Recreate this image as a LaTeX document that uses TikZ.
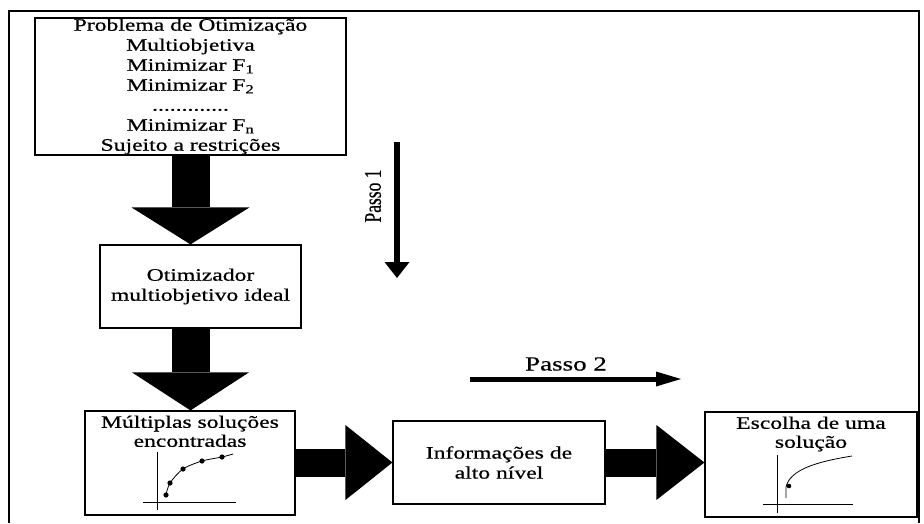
\documentclass[tikz,border=0pt]{standalone}
\usepackage{fontspec}
\setmainfont{Liberation Serif}[FakeStretch=1.35, FakeBold=0.6]
\newfontfamily\plainrm{Liberation Serif}[FakeBold=0.6]
\usetikzlibrary{arrows.meta}
\usetikzlibrary{positioning}
\tikzset{box/.style = {draw, line width=1.2pt, inner sep=0pt, align=center,
                       font=\fontsize{17.5}{20}\selectfont},
         boxtext/.style = {inner sep=0pt, align=center,
                           font=\fontsize{17.5}{19}\selectfont},
         bigarrow/.style n args = {3}{line width=#1,
                                      -{Triangle[length=#2, width=#3, line width=0pt]}}}

\begin{document}
\begin{tikzpicture}[x=1pt, y=-1pt]
  \useasboundingbox (0,0) rectangle (924,523);
  \draw[line width=1.6pt] (9,523) -- (9,11) -- (919,11) -- (919,523);

  \node[box, minimum width=311pt, minimum height=137pt] (problema) at (190.5,86.5)
    {Problema de Otimização\\Multiobjetiva\\Minimizar F\textsubscript{1}\\
     Minimizar F\textsubscript{2}\\.............\\Minimizar F\textsubscript{n}\\
     Sujeito a restrições};
  \node[box, minimum width=201pt, minimum height=83pt] (otimizador) at (200.5,286.5)
    {Otimizador\\multiobjetivo ideal};
  \node[box, minimum width=210pt, minimum height=104pt] (multiplas) at (190,463) {};
  \node[box, minimum width=212pt, minimum height=83pt] (info) at (499,462.5)
    {Informações de\\alto nível};
  \node[box, minimum width=212pt, minimum height=105pt] (escolha) at (811,464.5) {};
  \node[boxtext, below=5pt of multiplas.north] (multtext) {Múltiplas soluções\\encontradas};
  \node[boxtext, below=5pt of escolha.north] (esctext) {Escolha de uma\\solução};

  \draw[bigarrow={38pt}{37pt}{118pt}] (problema.south) -- (problema.south |- otimizador.north);
  \draw[bigarrow={38pt}{38pt}{117pt}] (otimizador.south -| problema.south) -- (multiplas.north -| problema.south);
  \draw[bigarrow={28pt}{47pt}{75pt}] (multiplas.east |- info.east) -- (info.west);
  \draw[bigarrow={28pt}{48pt}{75pt}] (info.east) -- (info.east -| escolha.west);

  \coordinate (p1a) at (397,142);
  \coordinate (p1b) at (397,278);
  \draw[bigarrow={6pt}{16pt}{25pt}] (p1a) -- (p1b);
  \node[rotate=90, inner sep=0pt] (passo1) at (373,196)
    {\scalebox{1}[1.37]{\plainrm\fontsize{17.5}{20}\selectfont Passo 1}};
  \coordinate (p2a) at (470,379);
  \coordinate (p2b) at (681,379);
  \draw[bigarrow={5pt}{25pt}{15pt}] (p2a) -- (p2b);
  \node[inner sep=0pt, font=\fontsize{20}{22}\selectfont] (passo2) at (566,364) {Passo 2};

  \draw[line width=1pt] (157,452) -- (157,510);
  \draw[line width=1pt] (143,502) -- (236,502);
  \draw[line width=0.8pt] plot[smooth] coordinates {(166,495) (170,483) (183,469) (202,461) (222,457) (233,454)};
  \foreach \p in {(166,495), (170,483), (183,469), (202,461), (222,457)}
    \fill \p circle (2.6pt);

  \draw[line width=1pt] (777,455) -- (777,513);
  \draw[line width=1pt] (763,504) -- (853,504);
  \draw[line width=0.8pt] (786,498) -- (786,487) .. controls (790,470) and (815,462) .. (852,456);
  \fill (789,486) circle (2.3pt);
\end{tikzpicture}
\end{document}
